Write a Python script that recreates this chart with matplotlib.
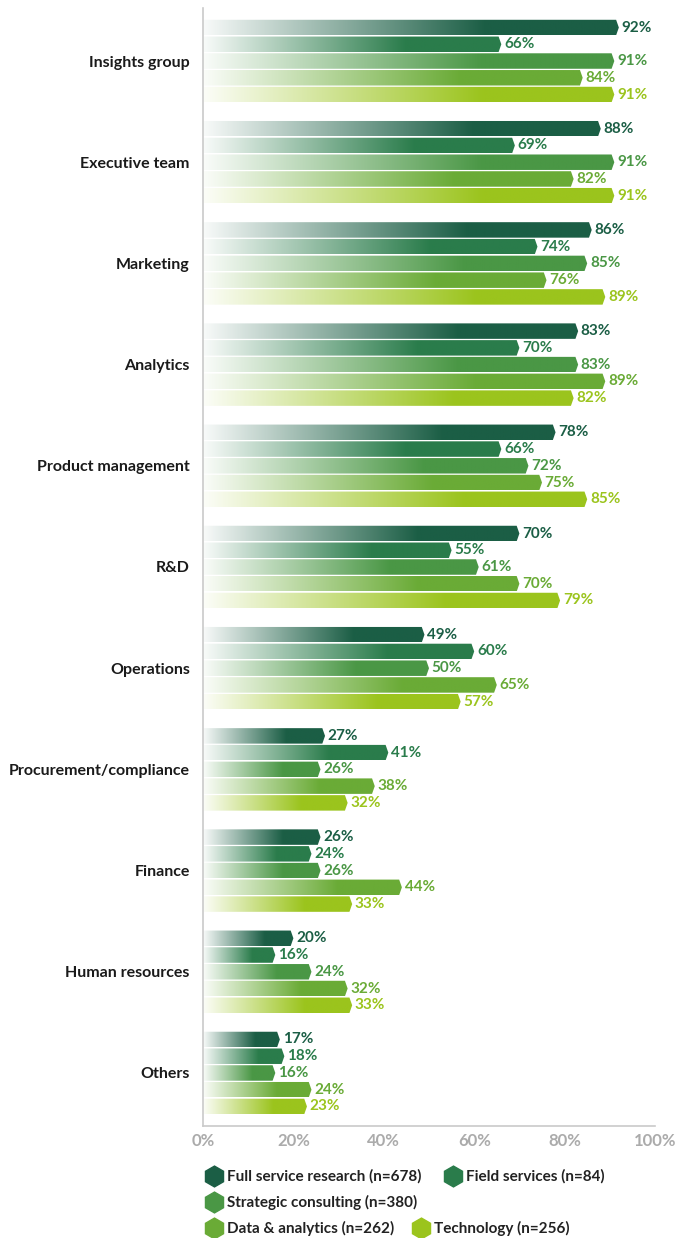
import numpy as np
import matplotlib.pyplot as plt
from matplotlib.patches import Polygon
from matplotlib.lines import Line2D
from matplotlib.colors import to_rgb

plt.rcParams['font.family'] = ['Lato', 'DejaVu Sans']

categories = ['Insights group', 'Executive team', 'Marketing', 'Analytics',
              'Product management', 'R&D', 'Operations', 'Procurement/compliance',
              'Finance', 'Human resources', 'Others']
series = ['Full service research (n=678)', 'Field services (n=84)',
          'Strategic consulting (n=380)', 'Data & analytics (n=262)',
          'Technology (n=256)']
colors = ['#1b5e45', '#2a7c4b', '#4a9745', '#6aab36', '#9bc41d']

full_service = [92, 88, 86, 83, 78, 70, 49, 27, 26, 20, 17]
field_services = [66, 69, 74, 70, 66, 55, 60, 41, 24, 16, 18]
strategic = [91, 91, 85, 83, 72, 61, 50, 26, 26, 24, 16]
data_analytics = [84, 82, 76, 89, 75, 70, 65, 38, 44, 32, 24]
technology = [91, 91, 89, 82, 85, 79, 57, 32, 33, 33, 23]
values = [full_service, field_services, strategic, data_analytics, technology]

xticks = [0, 20, 40, 60, 80, 100]

W, H = 692, 1238
fig = plt.figure(figsize=(W / 100, H / 100), dpi=100)
ax = fig.add_axes([203 / W, 112 / H, 452 / W, 1118 / H])

pitch = 0.1655
bar_h = 0.153
tip = 0.6
n = 256
t = np.linspace(0, 1, n)
ramp = np.clip(t / 0.68, 0, 1)
ramp = 0.03 + 0.97 * ramp

for j, (vals, c) in enumerate(zip(values, colors)):
    rgb = np.array(to_rgb(c))
    grad = (1 - ramp[:, None]) * np.ones(3) + ramp[:, None] * rgb
    img = grad[None, :, :]
    for i, v in enumerate(vals):
        y = i + (j - 2) * pitch
        y0, y1 = y - bar_h / 2, y + bar_h / 2
        im = ax.imshow(img, extent=(0, v, y1, y0), aspect='auto',
                       interpolation='bilinear', zorder=2)
        poly = Polygon([(0, y0), (v - tip, y0), (v, y), (v - tip, y1), (0, y1)],
                       closed=True, facecolor='none', edgecolor='none')
        ax.add_patch(poly)
        im.set_clip_path(poly)
        ax.text(v + 0.6, y, f'{v}%', va='center', ha='left', color=c,
                fontsize=11, fontweight='bold', zorder=3)

ax.set_xlim(0, 100)
ax.set_ylim(10.524, -0.524)
ax.set_yticks(range(len(categories)))
ax.set_yticklabels(categories, fontsize=11.5, fontweight='bold', color='#1a1a1a')
ax.set_xticks(xticks)
ax.set_xticklabels([f'{x}%' for x in xticks], fontsize=12, fontweight='bold',
                   color='#ababab')
ax.tick_params(axis='y', length=0, pad=9.5)
ax.tick_params(axis='x', length=0, pad=5)
for s in ['top', 'right']:
    ax.spines[s].set_visible(False)
for s in ['left', 'bottom']:
    ax.spines[s].set_color('#cacaca')
    ax.spines[s].set_linewidth(1.2)

# legend laid out by hand: two entries, one, then two
legend_pos = [(214, 1176), (453, 1176), (214, 1202), (214, 1228), (421, 1228)]
for (px, py), name, c in zip(legend_pos, series, colors):
    fx, fy = px / W, 1 - py / H
    fig.add_artist(Line2D([fx], [fy], marker='h', ms=15, color=c, lw=0,
                          transform=fig.transFigure))
    fig.text(fx + 13 / W, fy, name, ha='left', va='center', fontsize=11,
             fontweight='bold', color='#222222')

fig.savefig('out.png', dpi=100)
